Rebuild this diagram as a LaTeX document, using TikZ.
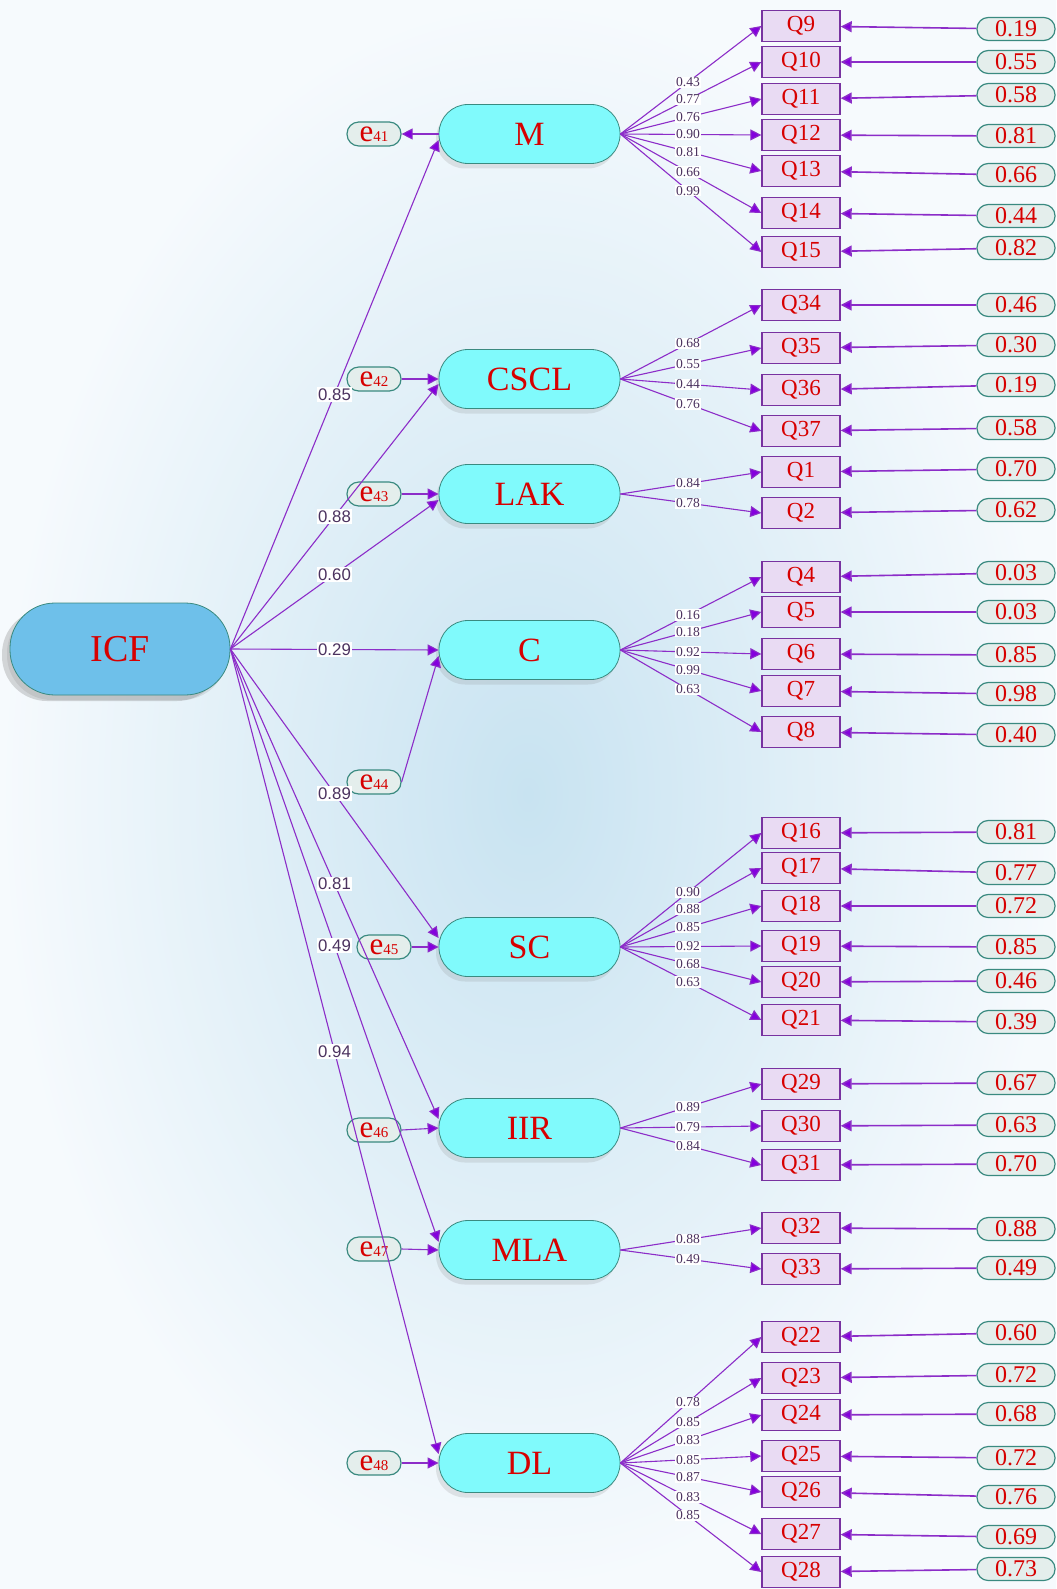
\documentclass[tikz,border=0pt]{standalone}
\usepackage{fontspec}
\setmainfont{Liberation Serif}
\newfontfamily\sansfnt{Liberation Sans}
\usepackage{xcolor}
\usetikzlibrary{arrows.meta,shadows,positioning}
\definecolor{bgin}{RGB}{200,227,241}
\definecolor{bgout}{RGB}{246,250,253}
\definecolor{latfill}{RGB}{128,250,252}
\definecolor{icffill}{RGB}{110,192,234}
\definecolor{tealline}{RGB}{58,138,128}
\definecolor{qfill}{RGB}{233,219,243}
\definecolor{qline}{RGB}{120,50,160}
\definecolor{resfill}{RGB}{228,238,236}
\definecolor{redtxt}{RGB}{215,0,0}
\definecolor{pathc}{RGB}{140,45,200}
\definecolor{tipc}{RGB}{132,0,222}
\definecolor{labc}{RGB}{75,50,95}
\newcommand\errlab[1]{e{\fontsize{7.5}{8}\selectfont #1}}
\tikzstyle{latent}=[rectangle, draw=tealline, fill=latfill, rounded corners=14.5pt, minimum width=90.5pt, minimum height=29.5pt, inner sep=0pt, text=redtxt, font=\fontsize{17}{17}\selectfont, drop shadow={shadow xshift=-1.5pt, shadow yshift=-2.5pt, opacity=0.18}]
\tikzstyle{qbox}=[rectangle, draw=qline, fill=qfill, line width=0.7pt, minimum width=39pt, minimum height=15.5pt, inner sep=0pt, text=redtxt, font=\fontsize{11.5}{12}\selectfont]
\tikzstyle{res}=[rectangle, draw=tealline, fill=resfill, line width=0.6pt, rounded corners=5.6pt, minimum width=39pt, minimum height=11.5pt, inner sep=0pt, text=redtxt, font=\fontsize{12}{12}\selectfont]
\tikzstyle{enode}=[rectangle, draw=tealline, fill=resfill, line width=0.6pt, rounded corners=5.9pt, minimum width=27pt, minimum height=12pt, inner sep=0pt, text=redtxt, font=\fontsize{15.5}{15}\selectfont]
\begin{document}
\begin{tikzpicture}[x=0.5pt,y=-0.5pt,
arr/.style={draw=pathc, line width=0.55pt, -{Triangle[length=5.5pt,width=5.5pt,fill=tipc]}},
resarr/.style={draw=pathc, line width=0.8pt, -{Triangle[length=5.5pt,width=5.5pt,fill=tipc]}},
fan/.style={every edge/.append style=arr},
back/.style={every edge/.append style=resarr},
ld/.style={fill=white, inner sep=0.5pt, pos=0.48, text=labc, font=\fontsize{6.8}{7}\selectfont},
lft/.style={fill=white, inner sep=0.7pt, pos=0.5, text=labc, font=\sansfnt\fontsize{8.4}{9}\selectfont}]
\useasboundingbox (0,0) rectangle (1056,1589);
\shade[inner color=bgin, outer color=bgout] (0,0) rectangle (1056,1589);
\node (ICF) at (120,649)[latent, fill=icffill, rounded corners=22.5pt, minimum width=110pt, minimum height=46pt, font=\fontsize{19}{19}\selectfont, drop shadow={shadow xshift=-4pt, shadow yshift=-3pt, opacity=0.3}] {ICF};
\node (M) at (529.5,134)[latent] {M};
\node (CSCL) at (529.5,379)[latent] {CSCL};
\node (LAK) at (529.5,494)[latent] {LAK};
\node (C) at (529.5,650)[latent] {C};
\node (SC) at (529.5,947)[latent] {SC};
\node (IIR) at (529.5,1128)[latent] {IIR};
\node (MLA) at (529.5,1250)[latent] {MLA};
\node (DL) at (529.5,1463)[latent] {DL};
\node (e41) at (374,134)[enode] {\errlab{41}};
\node (e42) at (374,379)[enode] {\errlab{42}};
\node (e43) at (374,494)[enode] {\errlab{43}};
\node (e44) at (374,782)[enode] {\errlab{44}};
\node (e45) at (384,947)[enode] {\errlab{45}};
\node (e46) at (374,1130)[enode] {\errlab{46}};
\node (e47) at (374,1249)[enode] {\errlab{47}};
\node (e48) at (374,1463)[enode] {\errlab{48}};
\node (q9) at (801,26)[qbox] {Q9};
\node (q10) at (801,62)[qbox] {Q10};
\node (q11) at (801,99)[qbox] {Q11};
\node (q12) at (801,135)[qbox] {Q12};
\node (q13) at (801,171)[qbox] {Q13};
\node (q14) at (801,213)[qbox] {Q14};
\node (q15) at (801,252)[qbox] {Q15};
\node (q34) at (801,305)[qbox] {Q34};
\node (q35) at (801,348)[qbox] {Q35};
\node (q36) at (801,390)[qbox] {Q36};
\node (q37) at (801,431)[qbox] {Q37};
\node (q1) at (801,472)[qbox] {Q1};
\node (q2) at (801,513)[qbox] {Q2};
\node (q4) at (801,577)[qbox] {Q4};
\node (q5) at (801,612)[qbox] {Q5};
\node (q6) at (801,654)[qbox] {Q6};
\node (q7) at (801,691)[qbox] {Q7};
\node (q8) at (801,732)[qbox] {Q8};
\node (q16) at (801,833)[qbox] {Q16};
\node (q17) at (801,868)[qbox] {Q17};
\node (q18) at (801,906)[qbox] {Q18};
\node (q19) at (801,946)[qbox] {Q19};
\node (q20) at (801,982)[qbox] {Q20};
\node (q21) at (801,1020)[qbox] {Q21};
\node (q29) at (801,1084)[qbox] {Q29};
\node (q30) at (801,1126)[qbox] {Q30};
\node (q31) at (801,1165)[qbox] {Q31};
\node (q32) at (801,1228)[qbox] {Q32};
\node (q33) at (801,1269)[qbox] {Q33};
\node (q22) at (801,1337)[qbox] {Q22};
\node (q23) at (801,1378)[qbox] {Q23};
\node (q24) at (801,1415)[qbox] {Q24};
\node (q25) at (801,1456)[qbox] {Q25};
\node (q26) at (801,1492)[qbox] {Q26};
\node (q27) at (801,1534)[qbox] {Q27};
\node (q28) at (801,1572)[qbox] {Q28};
\node (r9) at (1016,29)[res] {0.19};
\node (r10) at (1016,62)[res] {0.55};
\node (r11) at (1016,95)[res] {0.58};
\node (r12) at (1016,136)[res] {0.81};
\node (r13) at (1016,175)[res] {0.66};
\node (r14) at (1016,216)[res] {0.44};
\node (r15) at (1016,248)[res] {0.82};
\node (r34) at (1016,305)[res] {0.46};
\node (r35) at (1016,345)[res] {0.30};
\node (r36) at (1016,385)[res] {0.19};
\node (r37) at (1016,428)[res] {0.58};
\node (r1) at (1016,469)[res] {0.70};
\node (r2) at (1016,510)[res] {0.62};
\node (r4) at (1016,573)[res] {0.03};
\node (r5) at (1016,612)[res] {0.03};
\node (r6) at (1016,655)[res] {0.85};
\node (r7) at (1016,694)[res] {0.98};
\node (r8) at (1016,735)[res] {0.40};
\node (r16) at (1016,832)[res] {0.81};
\node (r17) at (1016,873)[res] {0.77};
\node (r18) at (1016,906)[res] {0.72};
\node (r19) at (1016,947)[res] {0.85};
\node (r20) at (1016,981)[res] {0.46};
\node (r21) at (1016,1022)[res] {0.39};
\node (r29) at (1016,1083)[res] {0.67};
\node (r30) at (1016,1125)[res] {0.63};
\node (r31) at (1016,1164)[res] {0.70};
\node (r32) at (1016,1229)[res] {0.88};
\node (r33) at (1016,1268)[res] {0.49};
\node (r22) at (1016,1333)[res] {0.60};
\node (r23) at (1016,1375)[res] {0.72};
\node (r24) at (1016,1414)[res] {0.68};
\node (r25) at (1016,1458)[res] {0.72};
\node (r26) at (1016,1497)[res] {0.76};
\node (r27) at (1016,1537)[res] {0.69};
\node (r28) at (1016,1569)[res] {0.73};
\path[fan] (ICF.east) edge node[lft] {0.85} ([yshift=-3pt]M.west)
  edge node[lft] {0.88} ([yshift=-2.5pt]CSCL.west)
  edge node[lft] {0.60} ([yshift=-3pt]LAK.west)
  edge node[lft] {0.29} (C.west)
  edge node[lft] {0.89} ([yshift=4.5pt]SC.west)
  edge node[lft] {0.81} ([yshift=4.5pt]IIR.west)
  edge node[lft] {0.49} ([yshift=4pt]MLA.west)
  edge node[lft] {0.94} ([yshift=4.5pt]DL.west);
\path[fan] (M.west) edge (e41.east);
\path[fan] (e42.east) edge (CSCL.west);
\path[fan] (e43.east) edge (LAK.west);
\path[fan] (e44.east) edge ([yshift=-3pt]C.west);
\path[fan] (e45.east) edge (SC.west);
\path[fan] (e46.east) edge (IIR.west);
\path[fan] (e47.east) edge (MLA.west);
\path[fan] (e48.east) edge (DL.west);
\path[fan] (M.east) edge node[ld] {0.43} (q9.west)
  edge node[ld] {0.77} (q10.west)
  edge node[ld] {0.76} (q11.west)
  edge node[ld] {0.90} (q12.west)
  edge node[ld] {0.81} (q13.west)
  edge node[ld] {0.66} (q14.west)
  edge node[ld] {0.99} (q15.west);
\path[fan] (CSCL.east) edge node[ld] {0.68} (q34.west)
  edge node[ld] {0.55} (q35.west)
  edge node[ld] {0.44} (q36.west)
  edge node[ld] {0.76} (q37.west);
\path[fan] (LAK.east) edge node[ld] {0.84} (q1.west)
  edge node[ld] {0.78} (q2.west);
\path[fan] (C.east) edge node[ld] {0.16} (q4.west)
  edge node[ld] {0.18} (q5.west)
  edge node[ld] {0.92} (q6.west)
  edge node[ld] {0.99} (q7.west)
  edge node[ld] {0.63} (q8.west);
\path[fan] (SC.east) edge node[ld] {0.90} (q16.west)
  edge node[ld] {0.88} (q17.west)
  edge node[ld] {0.85} (q18.west)
  edge node[ld] {0.92} (q19.west)
  edge node[ld] {0.68} (q20.west)
  edge node[ld] {0.63} (q21.west);
\path[fan] (IIR.east) edge node[ld] {0.89} (q29.west)
  edge node[ld] {0.79} (q30.west)
  edge node[ld] {0.84} (q31.west);
\path[fan] (MLA.east) edge node[ld] {0.88} (q32.west)
  edge node[ld] {0.49} (q33.west);
\path[fan] (DL.east) edge node[ld] {0.78} (q22.west)
  edge node[ld] {0.85} (q23.west)
  edge node[ld] {0.83} (q24.west)
  edge node[ld] {0.85} (q25.west)
  edge node[ld] {0.87} (q26.west)
  edge node[ld] {0.83} (q27.west)
  edge node[ld] {0.85} (q28.west);
\path[back] (r9) edge (q9) (r10) edge (q10) (r11) edge (q11) (r12) edge (q12)
  (r13) edge (q13) (r14) edge (q14) (r15) edge (q15);
\path[back] (r34) edge (q34) (r35) edge (q35) (r36) edge (q36) (r37) edge (q37)
  (r1) edge (q1) (r2) edge (q2);
\path[back] (r4) edge (q4) (r5) edge (q5) (r6) edge (q6) (r7) edge (q7) (r8) edge (q8);
\path[back] (r16) edge (q16) (r17) edge (q17) (r18) edge (q18) (r19) edge (q19)
  (r20) edge (q20) (r21) edge (q21);
\path[back] (r29) edge (q29) (r30) edge (q30) (r31) edge (q31) (r32) edge (q32) (r33) edge (q33);
\path[back] (r22) edge (q22) (r23) edge (q23) (r24) edge (q24) (r25) edge (q25)
  (r26) edge (q26) (r27) edge (q27) (r28) edge (q28);
\end{tikzpicture}
\end{document}
